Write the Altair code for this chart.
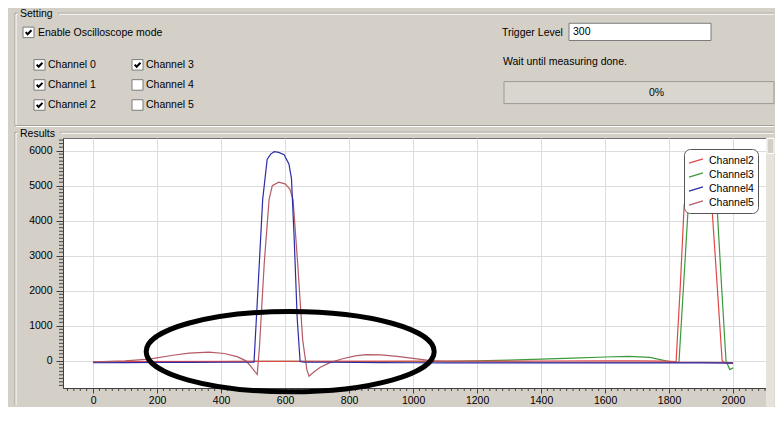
import altair as alt
import pandas as pd

# ---------------- series ----------------
names = ["Channel2", "Channel3", "Channel4", "Channel5"]
colors = ["#e04848", "#3c9a3c", "#2c2ca8", "#b45a64"]
widths = [1.2, 1.2, 1.8, 1.2]

ch2_x = [0, 500, 1000, 1200, 1400, 1600, 1700, 1790, 1822, 1835, 1847, 1860, 1885, 1910, 1926, 1934, 1950, 1966, 1975, 2000]
ch2_y = [-20, -15, -10, -10, -5, 0, 0, -10, -20, 2100, 4400, 5300, 5600, 5500, 5300, 4400, 2200, 0, -60, -70]

ch3_x = [0, 200, 400, 600, 800, 1000, 1100, 1200, 1300, 1400, 1500, 1600, 1675, 1740, 1790, 1815, 1831, 1845, 1860, 1875, 1900, 1925, 1940, 1950, 1965, 1978, 1990, 2000]
ch3_y = [-30, -20, -20, -15, -20, -20, -15, 0, 20, 50, 80, 110, 130, 100, 0, -40, -40, 2100, 4400, 5400, 5600, 5500, 5000, 4400, 2000, 0, -250, -200]

ch4_x = [0, 100, 200, 300, 400, 490, 503, 515, 530, 544, 555, 566, 580, 597, 612, 620, 628, 638, 647, 660, 750, 900, 1000, 1100, 1200, 1400, 1600, 1800, 1900, 2000]
ch4_y = [-55, -50, -45, -45, -40, -40, -35, 2000, 4600, 5750, 5900, 5970, 5950, 5880, 5620, 5200, 3600, 1200, -20, -40, -40, -50, -55, -60, -60, -60, -60, -60, -60, -65]

ch5_x = [0, 100, 175, 250, 300, 362, 410, 450, 478, 495, 513, 520, 535, 550, 560, 580, 600, 615, 625, 640, 655, 668, 675, 690, 710, 740, 780, 820, 853, 900, 950, 1000, 1060, 1100, 1300, 1500, 1700, 1900, 2000]
ch5_y = [-30, 0, 50, 160, 220, 250, 210, 120, 0, -180, -390, 400, 2800, 4600, 5000, 5100, 5050, 4900, 4600, 2700, 600, -250, -440, -320, -180, -50, 60, 140, 180, 170, 130, 70, 0, -20, -30, -40, -40, -45, -50]

x_ticks = [0, 200, 400, 600, 800, 1000, 1200, 1400, 1600, 1800, 2000]
y_ticks = [0, 1000, 2000, 3000, 4000, 5000, 6000]
x_minor = [v for v in range(-80, 2101, 20) if v % 200 != 0]
y_minor = [v for v in range(-700, 6301, 100) if v % 1000 != 0]

# hand-drawn annotation ellipse (centre in data units)
ellipse_x = [616]
ellipse_y = [263]

# ---------------- window texts ----------------
ui_labels = ["Setting", "Enable Oscilloscope mode", "Channel 0", "Channel 1", "Channel 2",
             "Channel 3", "Channel 4", "Channel 5", "Trigger Level", "300",
             "Wait until measuring done.", "0%", "Results"]
checked = [True, True, True, True, True, False, False]

# ---------------- layout (pixels) ----------------
W, H = 703, 250
TOP, BOT, LEFT, RIGHT = 130, 269, -55, 711
FONT = "Liberation Sans"


def rx(X):
    return X - 64


def ry(Y):
    return (Y - 143) * 0.956 if Y <= 143 else (Y - 143) * H / 258


text_pos = [(21, 12.8), (39, 32.7), (49, 66.5), (49, 87.5), (49, 108.7),
            (147, 66.5), (147, 87.5), (147, 108.7), (503, 33), (574, 32.5),
            (504, 64), (650, 96), (21, 138.5)]
texts = pd.DataFrame({"t": ui_labels,
                      "px": [rx(a) for a, b in text_pos],
                      "py": [ry(b) for a, b in text_pos]})

box_pos = [(24, 27), (35, 61), (35, 82), (35, 103), (133, 61), (133, 82), (133, 103)]
rect_rows = []
for (a, b) in box_pos:
    rect_rows.append((a, b, a + 11, b + 11, "white", "#7b7b7b"))
rect_rows.append((570, 23, 712, 41, "white", "#7b7b7b"))
rect_rows.append((505, 84, 775, 107, "#d9d6cf", "#9c9a94"))
rect_rows.append((767.5, 143, 775, 420, "#e6e3dd", "#e6e3dd"))
rect_rows.append((768, 143.5, 775, 159, "#d4d0c8", "#ffffff"))
rects = pd.DataFrame({
    "x0": [rx(r[0]) for r in rect_rows], "y0": [ry(r[1]) for r in rect_rows],
    "x1": [rx(r[2]) for r in rect_rows], "y1": [ry(r[3]) for r in rect_rows],
    "f": [r[4] for r in rect_rows], "s": [r[5] for r in rect_rows]})

checks = pd.DataFrame({
    "px": [rx(a + 5.5) for (a, b), c in zip(box_pos, checked) if c],
    "py": [ry(b + 5.5) for (a, b), c in zip(box_pos, checked) if c]})

frame_segs = [(16, 12.5, 19, 12.5), (59, 12.5, 775, 12.5), (16, 12.5, 16, 130),
              (16, 130, 775, 130), (16, 137, 19, 137), (61, 137, 775, 137),
              (16, 137, 16, 419)]
rule_rows = []
for (a, b, c, d) in frame_segs:
    rule_rows.append((a, b, c, d, "#a09e98"))
    rule_rows.append((a + 1, b + 1, c + 1 if c == a else c, d + 1 if d == b else d, "#ffffff"))
rules = pd.DataFrame({
    "x0": [rx(r[0]) for r in rule_rows], "y0": [ry(r[1]) for r in rule_rows],
    "x1": [min(rx(r[2]), RIGHT) for r in rule_rows], "y1": [ry(r[3]) for r in rule_rows],
    "s": [r[4] for r in rule_rows]})

# ---------------- series table ----------------
frames = []
for nm, xs_, ys_ in [("Channel3", ch3_x, ch3_y), ("Channel2", ch2_x, ch2_y),
                     ("Channel5", ch5_x, ch5_y), ("Channel4", ch4_x, ch4_y)]:
    frames.append(pd.DataFrame({"channel": nm, "x": xs_, "y": ys_}))
df = pd.concat(frames, ignore_index=True)

xs = alt.Scale(domain=[-94, 2103], nice=False, zero=False)
ys = alt.Scale(domain=[-775, 6360], nice=False, zero=False)
xaxis = alt.Axis(values=x_ticks, title=None, grid=True, gridColor="#dcdcdc", format="d",
                 domainColor="#404040", tickColor="#404040", tickSize=5,
                 labelFont=FONT, labelFontSize=10.5, labelColor="black",
                 labelPadding=2, labelFlush=False)
yaxis = alt.Axis(values=y_ticks, title=None, grid=True, gridColor="#dcdcdc", format="d",
                 domainColor="#404040", tickColor="#404040", tickSize=7,
                 labelFont=FONT, labelFontSize=10.5, labelColor="black",
                 labelPadding=4)

lines = alt.Chart(df).mark_line().encode(
    x=alt.X("x:Q", scale=xs, axis=xaxis),
    y=alt.Y("y:Q", scale=ys, axis=yaxis),
    strokeWidth=alt.StrokeWidth("channel:N", scale=alt.Scale(domain=names, range=widths),
                                legend=None),
    color=alt.Color("channel:N", scale=alt.Scale(domain=names, range=colors),
                    legend=alt.Legend(title=None, orient="none", legendX=621, legendY=11,
                                      symbolType="M-1,0.3L1,-0.3", symbolSize=196,
                                      symbolStrokeWidth=1.2, labelFont=FONT,
                                      labelFontSize=10.5, labelColor="black",
                                      labelOffset=5, padding=4, rowPadding=0,
                                      cornerRadius=6, fillColor="white",
                                      strokeColor="#555555")),
)

xminor = alt.Chart(pd.DataFrame({"x": x_minor})).mark_rule(color="#404040").encode(
    x=alt.X("x:Q", scale=xs, axis=xaxis), y=alt.value(H), y2=alt.value(H + 3))
yminor = alt.Chart(pd.DataFrame({"y": y_minor})).mark_rule(color="#404040").encode(
    y=alt.Y("y:Q", scale=ys, axis=yaxis), x=alt.value(-4), x2=alt.value(0))

ell_path = ("M-1,0C-1,-0.154,-0.552,-0.279,0,-0.279C0.552,-0.279,1,-0.154,1,0"
            "C1,0.154,0.552,0.279,0,0.279C-0.552,0.279,-1,0.154,-1,0Z")
ellipse = alt.Chart(pd.DataFrame({"x": ellipse_x, "y": ellipse_y})).mark_point(
    shape=ell_path, size=288 * 288, filled=False, stroke="black", strokeWidth=5,
    opacity=1).encode(
    x=alt.X("x:Q", scale=xs, axis=xaxis), y=alt.Y("y:Q", scale=ys, axis=yaxis))

pin = alt.Chart(pd.DataFrame({"a": [LEFT], "b": [RIGHT], "c": [-TOP], "d": [BOT]})).mark_rect(
    fillOpacity=0, strokeOpacity=0).encode(
    x=alt.X("a:Q", scale=None), x2="b:Q", y=alt.Y("c:Q", scale=None), y2="d:Q")

ui_rect = alt.Chart(rects).mark_rect(strokeWidth=1).encode(
    x=alt.X("x0:Q", scale=None), x2="x1:Q", y=alt.Y("y0:Q", scale=None), y2="y1:Q",
    fill=alt.Fill("f:N", scale=None), stroke=alt.Stroke("s:N", scale=None))

ui_rule = alt.Chart(rules).mark_rule(strokeWidth=1).encode(
    x=alt.X("x0:Q", scale=None), x2="x1:Q", y=alt.Y("y0:Q", scale=None), y2="y1:Q",
    stroke=alt.Stroke("s:N", scale=None))

ui_text = alt.Chart(texts).mark_text(align="left", baseline="middle", font=FONT,
                                     fontSize=10.5, color="black").encode(
    x=alt.X("px:Q", scale=None), y=alt.Y("py:Q", scale=None), text="t:N")

check_path = "M-0.8,-0.05L-0.25,0.55L0.85,-0.6"
ui_check = alt.Chart(checks).mark_point(shape=check_path, size=49, filled=False,
                                        strokeWidth=2, color="black", opacity=1).encode(
    x=alt.X("px:Q", scale=None), y=alt.Y("py:Q", scale=None))

chart = alt.layer(lines, xminor, yminor, ellipse, pin, ui_rule, ui_rect, ui_text, ui_check).properties(
    width=W, height=H, padding=0, background="#d4d0c8"
).configure_view(fill="white", stroke="#707070", strokeWidth=1)

chart.save("out.html", embed_options={"renderer": "svg", "actions": False})
